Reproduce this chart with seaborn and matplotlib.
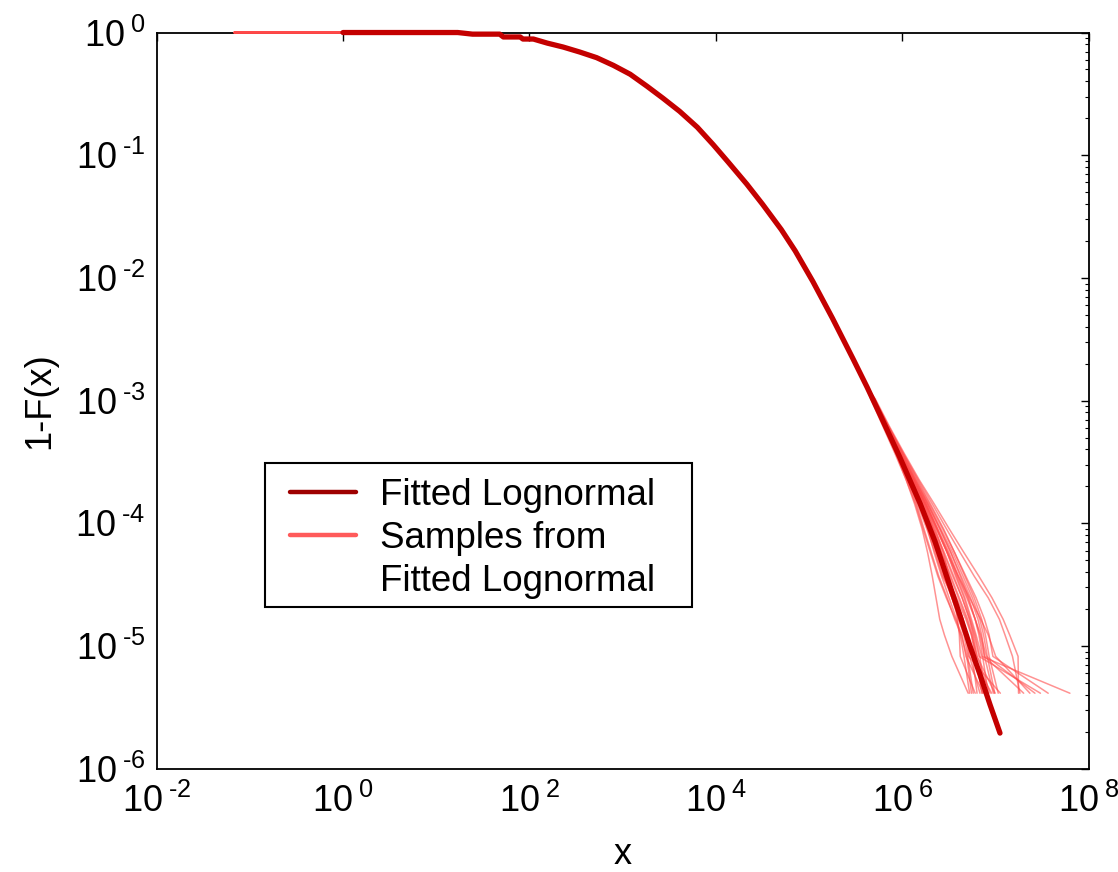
import numpy as np
import pandas as pd
import matplotlib
matplotlib.use("Agg")
import matplotlib.pyplot as plt
from matplotlib.ticker import FixedLocator, NullLocator, LogLocator, FixedFormatter
from matplotlib.lines import Line2D
from matplotlib.patches import Rectangle
import seaborn as sns

# ---- data ----
main_x = [1, 17.0, 24.5, 47.9, 52.5, 79.4, 85.1, 110, 155, 229, 347, 525, 794,
          1202, 1820, 2692, 4074, 6310, 9333, 13490, 21380, 31620, 50120,
          70790, 109600, 177800, 295100, 416900, 575400, 933300, 1.549e6,
          2.239e6, 2.884e6, 4.169e6, 5.248e6, 6.761e6, 8.710e6, 1.112e7]
main_y = [1, 1, 0.970, 0.970, 0.920, 0.920, 0.885, 0.885, 0.820, 0.762, 0.693,
          0.624, 0.540, 0.457, 0.365, 0.292, 0.228, 0.169, 0.122, 0.0881,
          0.0582, 0.0398, 0.0248, 0.0166, 0.00933, 0.00468, 0.00219, 0.00129,
          7.67e-4, 3.47e-4, 1.445e-4, 7.08e-5, 3.98e-5, 1.74e-5, 1.02e-5,
          5.89e-6, 3.31e-6, 1.95e-6]

# samples: flat from the sample minimum, then the shared body of the curve
sample_min_x = 0.068
sample_body_x = [1, 17.0, 24.5, 47.9, 52.5, 79.4, 85.1, 110, 155, 229, 347, 525,
                 794, 1202, 1820, 2692, 4074, 6310, 9333, 13490, 21380, 31620,
                 50120, 70790, 109600, 177800, 295100, 416900]
sample_body_y = [1, 1, 0.970, 0.970, 0.920, 0.920, 0.885, 0.885, 0.820, 0.762,
                 0.693, 0.624, 0.540, 0.457, 0.365, 0.292, 0.228, 0.169, 0.122,
                 0.0881, 0.0582, 0.0398, 0.0248, 0.0166, 0.00933, 0.00468,
                 0.00219, 0.00129]

# tail levels (1-F) of the sample curves
tail_y = [1.029e-3, 6.17e-4, 3.70e-4, 2.26e-4, 1.44e-4, 9.05e-5, 5.76e-5,
          3.70e-5, 2.47e-5, 1.65e-5, 1.23e-5, 8.23e-6, 4.12e-6]

# log10(x) of each sample curve at the tail levels
tail_log10x = [
    [5.69, 5.81, 5.93, 6.04, 6.13, 6.21, 6.27, 6.32, 6.36, 6.40, 6.45, 6.53, 6.705],
    [5.67, 5.81, 5.95, 6.08, 6.19, 6.27, 6.34, 6.42, 6.50, 6.58, 6.62, 6.66, 6.72],
    [5.68, 5.83, 5.96, 6.10, 6.21, 6.30, 6.39, 6.45, 6.53, 6.60, 6.66, 6.70, 6.759],
    [5.70, 5.84, 5.98, 6.12, 6.24, 6.35, 6.44, 6.50, 6.56, 6.59, 6.61, 6.62, 6.78],
    [5.67, 5.80, 5.94, 6.06, 6.16, 6.26, 6.35, 6.43, 6.55, 6.64, 6.70, 6.75, 6.80],
    [5.69, 5.82, 5.96, 6.09, 6.20, 6.28, 6.37, 6.46, 6.56, 6.65, 6.69, 6.72, 6.831],
    [5.68, 5.83, 5.97, 6.11, 6.23, 6.33, 6.42, 6.52, 6.61, 6.70, 6.75, 6.79, 6.85],
    [5.66, 5.79, 5.92, 6.04, 6.14, 6.22, 6.30, 6.38, 6.47, 6.57, 6.64, 6.68, 6.866],
    [5.69, 5.83, 5.97, 6.12, 6.25, 6.37, 6.48, 6.57, 6.66, 6.73, 6.78, 6.83, 6.88],
    [5.68, 5.81, 5.95, 6.08, 6.19, 6.29, 6.38, 6.45, 6.54, 6.63, 6.70, 6.76, 6.903],
    [5.70, 5.85, 6.00, 6.14, 6.27, 6.40, 6.52, 6.62, 6.71, 6.78, 6.82, 6.86, 6.92],
    [5.68, 5.82, 5.95, 6.08, 6.18, 6.28, 6.36, 6.44, 6.53, 6.62, 6.68, 6.74, 6.957],
    [5.69, 5.84, 5.98, 6.13, 6.26, 6.38, 6.50, 6.60, 6.70, 6.78, 6.83, 6.88, 6.975],
    [5.67, 5.81, 5.94, 6.07, 6.18, 6.27, 6.37, 6.47, 6.58, 6.68, 6.74, 6.80, 6.992],
    [5.70, 5.85, 6.01, 6.16, 6.30, 6.44, 6.56, 6.67, 6.77, 6.85, 6.89, 6.93, 7.027],
    [5.68, 5.82, 5.96, 6.09, 6.21, 6.31, 6.40, 6.48, 6.57, 6.65, 6.68, 6.71, 7.05],
    [5.71, 5.86, 6.02, 6.18, 6.34, 6.50, 6.66, 6.82, 6.96, 7.08, 7.15, 7.24, 7.245],
    [5.70, 5.85, 6.01, 6.17, 6.32, 6.47, 6.62, 6.77, 6.92, 7.04, 7.10, 7.18, 7.26],
    [5.69, 5.84, 5.99, 6.13, 6.27, 6.40, 6.52, 6.63, 6.73, 6.81, 6.85, 6.88, 7.30],
    [5.68, 5.83, 5.97, 6.11, 6.24, 6.36, 6.48, 6.60, 6.72, 6.84, 6.92, 7.00, 7.367],
    [5.69, 5.83, 5.98, 6.12, 6.25, 6.37, 6.49, 6.59, 6.69, 6.78, 6.84, 6.90, 7.421],
    [5.68, 5.82, 5.96, 6.10, 6.22, 6.33, 6.44, 6.54, 6.64, 6.72, 6.77, 6.82, 7.48],
    [5.70, 5.85, 6.00, 6.15, 6.29, 6.43, 6.56, 6.68, 6.79, 6.88, 6.93, 6.97, 7.563],
    [5.69, 5.84, 5.98, 6.12, 6.25, 6.37, 6.48, 6.58, 6.67, 6.74, 6.79, 6.85, 7.796],
    [5.67, 5.80, 5.93, 6.05, 6.15, 6.23, 6.31, 6.39, 6.48, 6.56, 6.63, 6.69, 6.74],
    [5.69, 5.83, 5.97, 6.11, 6.23, 6.34, 6.45, 6.55, 6.64, 6.72, 6.76, 6.80, 6.94],
    [5.67, 5.81, 5.95, 6.09, 6.21, 6.32, 6.42, 6.51, 6.60, 6.69, 6.74, 6.78, 6.86],
    [5.70, 5.84, 5.99, 6.14, 6.28, 6.41, 6.54, 6.65, 6.75, 6.83, 6.87, 6.91, 6.99],
]

HY = "\u2010"
x_ticks = [1e-2, 1e0, 1e2, 1e4, 1e6, 1e8]
x_tick_labels = [r"$\mathregular{10^{\;" + HY + "2}}$", r"$\mathregular{10^{\;0}}$",
                 r"$\mathregular{10^{\;2}}$", r"$\mathregular{10^{\;4}}$",
                 r"$\mathregular{10^{\;6}}$", r"$\mathregular{10^{\;8}}$"]
y_ticks = [1e-6, 1e-5, 1e-4, 1e-3, 1e-2, 1e-1, 1e0]
y_tick_labels = [r"$\mathregular{10^{\;" + HY + "6}}$", r"$\mathregular{10^{\;" + HY + "5}}$",
                 r"$\mathregular{10^{\;" + HY + "4}}$", r"$\mathregular{10^{\;" + HY + "3}}$",
                 r"$\mathregular{10^{\;" + HY + "2}}$", r"$\mathregular{10^{\;" + HY + "1}}$",
                 r"$\mathregular{10^{\;0}}$"]

legend_labels = ["Fitted Lognormal", "Samples from", "Fitted Lognormal"]

main_color = "#C40000"
sample_color = "#FF4A4A"

# ---- build long tables ----
rows = []
for i, tl in enumerate(tail_log10x):
    xs = [sample_min_x] + sample_body_x + list(np.power(10.0, tl))
    ys = [1.0] + sample_body_y + tail_y
    for j, (xx, yy) in enumerate(zip(xs, ys)):
        rows.append({"sample": i, "order": j, "x": xx, "y": yy})
samples_df = pd.DataFrame(rows)
main_df = pd.DataFrame({"x": main_x, "y": main_y})

# ---- style ----
sns.set_style("white")
plt.rcParams["font.family"] = ["Liberation Sans", "DejaVu Sans"]
plt.rcParams["mathtext.fontset"] = "custom"
plt.rcParams["mathtext.rm"] = "Liberation Sans"
plt.rcParams["mathtext.it"] = "Liberation Sans:italic"
plt.rcParams["mathtext.bf"] = "Liberation Sans:bold"
for k in ["text.color", "axes.labelcolor", "xtick.color", "ytick.color"]:
    plt.rcParams[k] = "black"

fig = plt.figure(figsize=(11.18, 8.72), dpi=100)
ax = fig.add_axes([0.1400, 0.1185, 0.8340, 0.8442])

sns.lineplot(data=samples_df, x="x", y="y", units="sample", estimator=None,
             sort=False, color=sample_color, alpha=0.6, linewidth=1.1, ax=ax,
             legend=False)
sns.lineplot(data=main_df, x="x", y="y", estimator=None, sort=False,
             color=main_color, linewidth=3.8, ax=ax, legend=False)
for ln in ax.lines:
    ln.set_clip_on(False)
    ln.set_zorder(3)

ax.set_xscale("log")
ax.set_yscale("log")
ax.set_xlim(1e-2, 1e8)
ax.set_ylim(1e-6, 1e0)

ax.xaxis.set_major_locator(FixedLocator(x_ticks))
ax.xaxis.set_major_formatter(FixedFormatter(x_tick_labels))
ax.xaxis.set_minor_locator(NullLocator())
ax.yaxis.set_major_locator(FixedLocator(y_ticks))
ax.yaxis.set_major_formatter(FixedFormatter(y_tick_labels))
ax.yaxis.set_minor_locator(LogLocator(base=10, subs=np.arange(2, 10)))

ax.tick_params(which="both", direction="in", top=True, right=True,
               colors="black", labelsize=26)
ax.tick_params(which="major", length=5.5, width=1.0)
ax.tick_params(axis="y", which="major", pad=8)
ax.tick_params(axis="x", which="major", pad=11)
ax.tick_params(which="minor", length=3, width=0.8)
for s in ax.spines.values():
    s.set_color("black")
    s.set_linewidth(1.3)

ax.set_xlabel("x", fontsize=26, labelpad=12)
ax.set_ylabel("1-F(x)", fontsize=26, labelpad=13)

# legend box drawn as a plain rectangle, entries placed inside it
box = Rectangle((0.1164, 0.2196), 0.5743 - 0.1164, 0.4152 - 0.2196,
                transform=ax.transAxes, facecolor="white", edgecolor="black",
                linewidth=1.5, zorder=4)
ax.add_patch(box)
handles = [Line2D([0], [0], color="#9E0000", lw=3.2),
           Line2D([0], [0], color="#FF5A5A", lw=3.2),
           Line2D([0], [0], color="none", lw=0)]
leg = ax.legend(handles, legend_labels, loc="upper left",
                bbox_to_anchor=(0.1432, 0.3949), borderaxespad=0, borderpad=0,
                fontsize=26.5, frameon=False, handlelength=1.79,
                handletextpad=0.65, labelspacing=0.22)
leg.set_zorder(5)

fig.savefig("out.png", dpi=100)
